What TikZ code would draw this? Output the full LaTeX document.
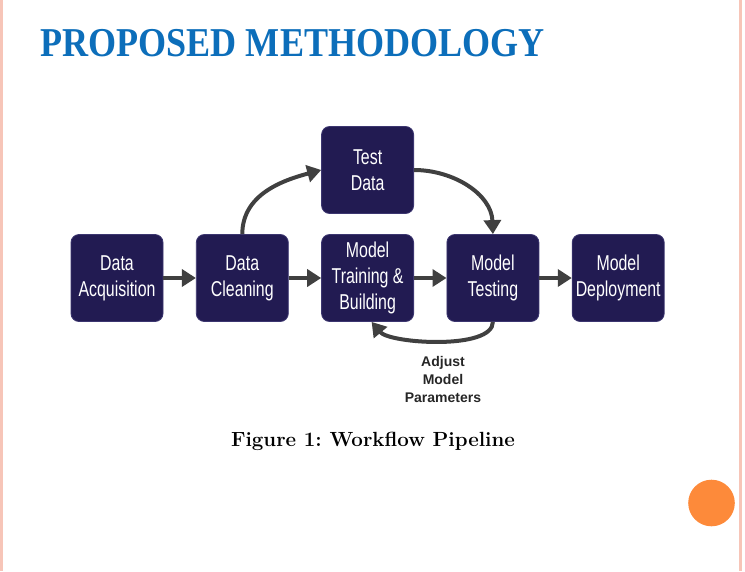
\documentclass[tikz,border=0pt]{standalone}
\usepackage{fontspec}
\usetikzlibrary{arrows.meta, positioning}

\newfontfamily\boxfont[FakeStretch=0.74]{Liberation Sans}
\newfontfamily\notefont{Liberation Sans}
\newfontfamily\titlefont[FakeStretch=0.88]{Liberation Serif}

\definecolor{boxnavy}{RGB}{34,27,82}
\definecolor{boxedge}{RGB}{60,54,112}
\definecolor{arrowgrey}{RGB}{64,64,64}
\definecolor{titleblue}{RGB}{12,110,186}
\definecolor{sidepink}{RGB}{247,197,184}
\definecolor{dotorange}{RGB}{253,138,58}

\begin{document}
\begin{tikzpicture}[
    x=1pt, y=-1pt,
    node distance=125.3pt,
    on grid,
    stage/.style={rectangle, rounded corners=8pt, fill=boxnavy, draw=boxedge,
        line width=0.8pt, minimum width=92pt, minimum height=87pt,
        inner xsep=1pt,
        text=white, align=center, font=\boxfont\fontsize{21.5}{26}\selectfont},
    flow/.style={-{Triangle[length=14pt, width=17pt]}, line width=4pt,
        draw=arrowgrey},
    note/.style={align=center, text=black!85,
        font=\notefont\bfseries\fontsize{14}{18}\selectfont},
]

    % page frame
    \useasboundingbox (0,0) rectangle (745,571);
    \fill[sidepink] (0,0) rectangle (2.5,571);
    \fill[sidepink] (739,0) rectangle (742,571);

    \node[anchor=base west, text=titleblue,
          font=\titlefont\bfseries\fontsize{41}{44}\selectfont]
        (title) at (37,56) {PROPOSED METHODOLOGY};

    % pipeline
    \node[stage]                   (acq)    at (117,278) {Data\\Acquisition};
    \node[stage, right=of acq]     (clean)  {Data\\Cleaning};
    \node[stage, right=of clean]   (train)  {Model\\Training \&\\Building};
    \node[stage, right=of train]   (test)   {Model\\Testing};
    \node[stage, right=of test]    (deploy) {Model\\Deployment};
    \node[stage, above=108pt of train] (tdata) {Test\\Data};

    \node[note] (adjust) at (443,379) {Adjust\\Model\\Parameters};

    \path
        (acq)   edge [flow] (clean)
        (clean) edge [flow] (train)
        (train) edge [flow] (test)
        (test)  edge [flow] (deploy)
        (clean.north) edge [flow, out=90, in=195] (tdata.west)
        (tdata.east)  edge [flow, out=0, in=92]   (test.north)
        (test.south)  edge [flow, out=-90, in=-50, looseness=0.6]
                           ([xshift=4pt]train.south)
    ;

    \node[font=\bfseries\fontsize{20.5}{23}\selectfont] (caption) at (373,441)
        {\frenchspacing Figure 1: Workflow Pipeline};

    \fill[dotorange] (711.5,503) circle (23.3);
\end{tikzpicture}
\end{document}
